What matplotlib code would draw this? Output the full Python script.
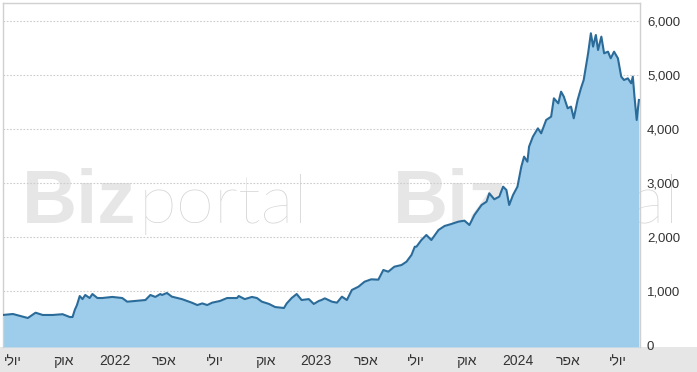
import matplotlib
matplotlib.use("Agg")
import matplotlib.pyplot as plt
from matplotlib.patches import Rectangle
from matplotlib.ticker import FuncFormatter
import pandas as pd

plt.rcParams['font.family'] = ['Liberation Sans', 'DejaVu Sans']

dates = [
    "2021-06-13", "2021-07-01", "2021-07-19", "2021-07-28", "2021-08-11", "2021-08-24",
    "2021-09-11", "2021-09-29", "2021-10-12", "2021-10-17", "2021-10-21", "2021-10-25",
    "2021-10-30", "2021-11-04", "2021-11-09", "2021-11-17", "2021-11-22", "2021-12-01",
    "2021-12-10", "2021-12-28", "2022-01-15", "2022-01-24", "2022-02-07", "2022-02-26",
    "2022-03-07", "2022-03-16", "2022-03-25", "2022-03-28", "2022-04-06", "2022-04-15",
    "2022-05-03", "2022-05-21", "2022-05-31", "2022-06-09", "2022-06-18", "2022-06-27",
    "2022-07-11", "2022-07-24", "2022-08-11", "2022-08-14", "2022-08-25", "2022-09-07",
    "2022-09-16", "2022-09-25", "2022-10-08", "2022-10-19", "2022-11-04", "2022-11-09",
    "2022-11-18", "2022-11-27", "2022-12-06", "2022-12-19", "2022-12-28", "2023-01-06",
    "2023-01-11", "2023-01-17", "2023-01-30", "2023-02-08", "2023-02-17", "2023-02-26",
    "2023-03-07", "2023-03-19", "2023-03-30", "2023-04-11", "2023-04-24", "2023-05-03",
    "2023-05-12", "2023-05-23", "2023-06-05", "2023-06-14", "2023-06-23", "2023-06-29",
    "2023-07-02", "2023-07-11", "2023-07-20", "2023-07-29", "2023-08-11", "2023-08-22",
    "2023-09-03", "2023-09-16", "2023-09-27", "2023-10-06", "2023-10-15", "2023-10-28",
    "2023-11-06", "2023-11-11", "2023-11-20", "2023-11-29", "2023-12-06", "2023-12-12",
    "2023-12-17", "2023-12-24", "2024-01-01", "2024-01-08", "2024-01-13", "2024-01-19",
    "2024-01-22", "2024-01-29", "2024-02-07", "2024-02-13", "2024-02-22", "2024-03-02",
    "2024-03-07", "2024-03-15", "2024-03-20", "2024-03-25", "2024-04-01", "2024-04-07",
    "2024-04-12", "2024-04-19", "2024-04-25", "2024-04-30", "2024-05-08", "2024-05-13",
    "2024-05-17", "2024-05-22", "2024-05-26", "2024-06-01", "2024-06-06", "2024-06-13",
    "2024-06-18", "2024-06-24", "2024-07-01", "2024-07-07", "2024-07-12", "2024-07-19",
    "2024-07-25", "2024-07-28", "2024-07-31", "2024-08-04", "2024-08-08",
]
values = [
    556, 574, 524, 500, 598, 556,
    556, 570, 518, 518, 648, 740,
    907, 850, 926, 870, 944, 870,
    870, 890, 870, 802, 815, 833,
    926, 890, 944, 926, 963, 895,
    850, 784, 740, 770, 740, 784,
    815, 870, 870, 907, 850, 890,
    870, 802, 760, 703, 685, 770,
    870, 944, 833, 850, 760, 815,
    833, 864, 802, 784, 895, 833,
    1019, 1080, 1172, 1216, 1210, 1389,
    1358, 1450, 1481, 1543, 1667, 1820,
    1820, 1944, 2037, 1944, 2130, 2204,
    2240, 2284, 2303, 2222, 2407, 2593,
    2654, 2809, 2698, 2747, 2932, 2870,
    2593, 2778, 2932, 3302, 3488, 3395,
    3673, 3858, 4012, 3920, 4167, 4228,
    4568, 4475, 4691, 4599, 4383, 4414,
    4198, 4537, 4753, 4907, 5401, 5772,
    5525, 5741, 5463, 5710, 5401, 5432,
    5309, 5432, 5309, 4969, 4907, 4938,
    4846, 4969, 4600, 4167, 4537,
]

tick_dates = ["2021-07-01", "2021-10-01", "2022-01-01", "2022-04-01", "2022-07-01",
              "2022-10-01", "2023-01-01", "2023-04-01", "2023-07-01", "2023-10-01",
              "2024-01-01", "2024-04-01", "2024-07-01"]
tick_labels = ["יולי", "אוק", "2022", "אפר", "יולי", "אוק", "2023", "אפר", "יולי",
               "אוק", "2024", "אפר", "יולי"]
y_ticks = [0, 1000, 2000, 3000, 4000, 5000, 6000]


def visual(s):
    # matplotlib has no bidi support: put Hebrew letters in visual order
    if any('\u0590' <= ch <= '\u05ff' for ch in s):
        return s[::-1]
    return s


W, H = 697, 372
fig = plt.figure(figsize=(W / 100, H / 100), dpi=100)
fig.patch.set_facecolor('white')

# bottom axis band (behind everything)
band = Rectangle((0, 0), 1, 25 / H, transform=fig.transFigure,
                 facecolor='#e6e6e6', edgecolor='none', zorder=-5)
fig.add_artist(band)

# watermarks (behind the chart)
for x0 in [22, 393]:
    t1 = fig.text(x0 / W, 1 - 223 / H, "Biz", fontsize=55, fontweight='bold',
                  color='#e6e6e6', ha='left', va='baseline', zorder=-4)
    fig.canvas.draw()
    bb = t1.get_window_extent()
    fig.text((bb.x1 + 2) / W, 1 - 223 / H, "portal", fontsize=50,
             fontweight='light', family=['Lato', 'DejaVu Sans'],
             color='#d4d4d4', ha='left', va='baseline', zorder=-4)

ax = fig.add_axes([3 / W, 25 / H, 637 / W, 344 / H])
ax.set_facecolor('none')
ax.set_zorder(1)

x = pd.to_datetime(dates)
ymin = -37
ymax = 6333
ax.set_ylim(ymin, ymax)
ax.set_xlim(x[0], x[-1] + pd.Timedelta(days=2))

ax.fill_between(x, values, ymin, color='#9dcdea', lw=0, zorder=2)
ax.plot(x, values, color='#2b6b99', lw=1.5, zorder=3)

for v in y_ticks[1:]:
    ax.axhline(v, color='#cccccc', lw=0.8, ls=(0, (1.5, 1.5)), zorder=1)

ax.yaxis.tick_right()
ax.set_yticks(y_ticks)
ax.yaxis.set_major_formatter(FuncFormatter(lambda v, p: f"{int(v):,}"))
ax.tick_params(axis='y', length=0, pad=5, labelsize=9.5, labelcolor='#333333')

ax.set_xticks(pd.to_datetime(tick_dates))
ax.set_xticklabels([visual(t) for t in tick_labels])
ax.tick_params(axis='x', length=0, pad=5, labelsize=10, labelcolor='#333333')

for side in ['left', 'top', 'right']:
    ax.spines[side].set_color('#d0d0d0')
    ax.spines[side].set_linewidth(1)
ax.spines['bottom'].set_visible(False)

fig.savefig("out.png", dpi=100)
